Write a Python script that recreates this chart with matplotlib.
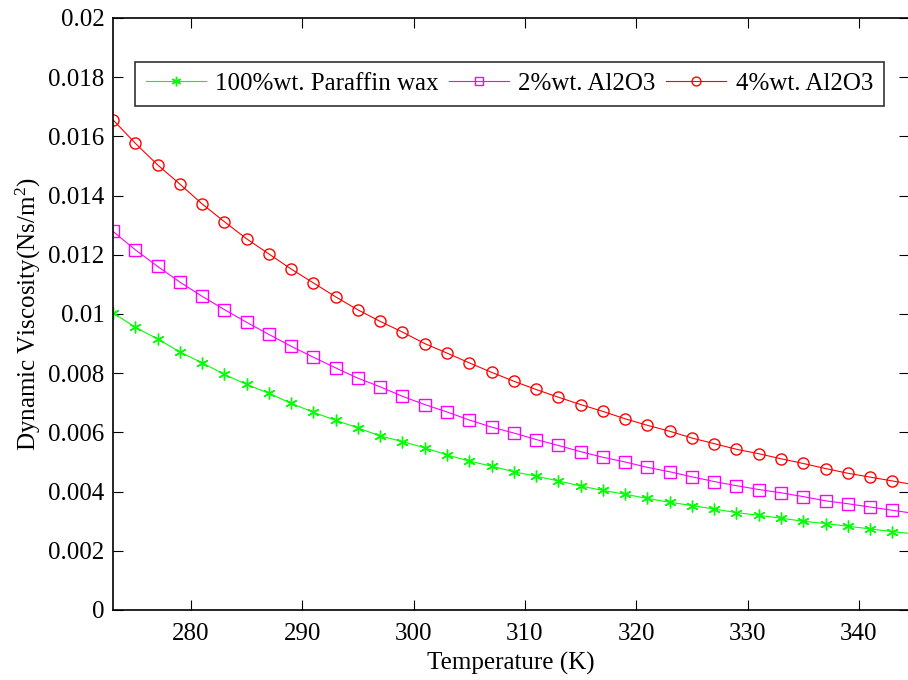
import numpy as np
import matplotlib.pyplot as plt

plt.rcParams['font.family'] = ['Liberation Serif', 'DejaVu Serif']
plt.rcParams['mathtext.fontset'] = 'custom'
plt.rcParams['mathtext.rm'] = 'Liberation Serif'
plt.rcParams['mathtext.it'] = 'Liberation Serif:italic'

# temperature (K), sampled every 2 K
temp = np.arange(273, 347, 2)

paraffin = [0.01004, 0.00955, 0.00916, 0.00872, 0.00835, 0.00796, 0.00762, 0.00732,
            0.00698, 0.00668, 0.00641, 0.00615, 0.00588, 0.00569, 0.00548, 0.00524,
            0.00503, 0.00486, 0.00467, 0.00452, 0.00436, 0.00419, 0.00404, 0.00391,
            0.00377, 0.00364, 0.00353, 0.00341, 0.00329, 0.00320, 0.00310, 0.00300,
            0.00292, 0.00283, 0.00274, 0.00265, 0.00257]
al2o3_2 = [0.01279, 0.01217, 0.01161, 0.01108, 0.01060, 0.01015, 0.00972, 0.00931,
           0.00891, 0.00854, 0.00818, 0.00783, 0.00754, 0.00722, 0.00694, 0.00669,
           0.00642, 0.00618, 0.00598, 0.00576, 0.00556, 0.00535, 0.00516, 0.00500,
           0.00482, 0.00467, 0.00450, 0.00434, 0.00420, 0.00407, 0.00396, 0.00383,
           0.00369, 0.00359, 0.00348, 0.00337, 0.00326]
al2o3_4 = [0.01656, 0.01577, 0.01504, 0.01439, 0.01372, 0.01312, 0.01254, 0.01203,
           0.01152, 0.01105, 0.01058, 0.01014, 0.00975, 0.00939, 0.00900, 0.00868,
           0.00835, 0.00803, 0.00773, 0.00745, 0.00719, 0.00694, 0.00671, 0.00646,
           0.00624, 0.00604, 0.00581, 0.00562, 0.00543, 0.00528, 0.00511, 0.00495,
           0.00478, 0.00462, 0.00449, 0.00436, 0.00423]

labels = ['100%wt. Paraffin wax', '2%wt. Al2O3', '4%wt. Al2O3']

fig = plt.figure(figsize=(9.08, 6.8), dpi=100)
ax = fig.add_axes([113 / 908, 1 - 610 / 680, 796 / 908, 592 / 680])

ax.plot(temp, paraffin, color='#00ff00', lw=0.8, marker=(6, 2, 0), ms=8.5,
        mew=1.0, label=labels[0])
ax.plot(temp, al2o3_2, color='#ff00ff', lw=0.8, marker='s', ms=8,
        mfc='none', mew=1.0, label=labels[1])
ax.plot(temp, al2o3_4, color='#ff0000', lw=0.8, marker='o', ms=8,
        mfc='none', mew=1.0, label=labels[2])

ax.set_xlim(273, 344.5)
ax.set_ylim(0, 0.02)
ax.set_xticks([280, 290, 300, 310, 320, 330, 340])
ax.set_yticks(np.arange(0, 0.0201, 0.002))
ax.set_yticklabels(['0', '0.002', '0.004', '0.006', '0.008', '0.01', '0.012',
                    '0.014', '0.016', '0.018', '0.02'])
ax.tick_params(direction='in', length=7, width=0.8, top=True, right=True,
               labelsize=18)
ax.tick_params(axis='x', pad=9)
ax.tick_params(axis='y', pad=6)
for sp in ax.spines.values():
    sp.set_linewidth(1.2)

ax.set_xlabel('Temperature (K)', fontsize=18, labelpad=5)
ax.set_ylabel(r'Dynamic Viscosity(Ns/m$^2$)', fontsize=18, labelpad=4)

leg = ax.legend(loc='upper left', bbox_to_anchor=(22 / 796, 1 - 44 / 592),
                ncol=3, fontsize=18, frameon=True, fancybox=False,
                edgecolor='black', handlelength=2.4, handletextpad=0.38,
                columnspacing=0.42, borderpad=0.42, borderaxespad=0,
                markerscale=0.8, numpoints=1)
leg.get_frame().set_linewidth(1.2)

fig.savefig('out.png', dpi=100)
